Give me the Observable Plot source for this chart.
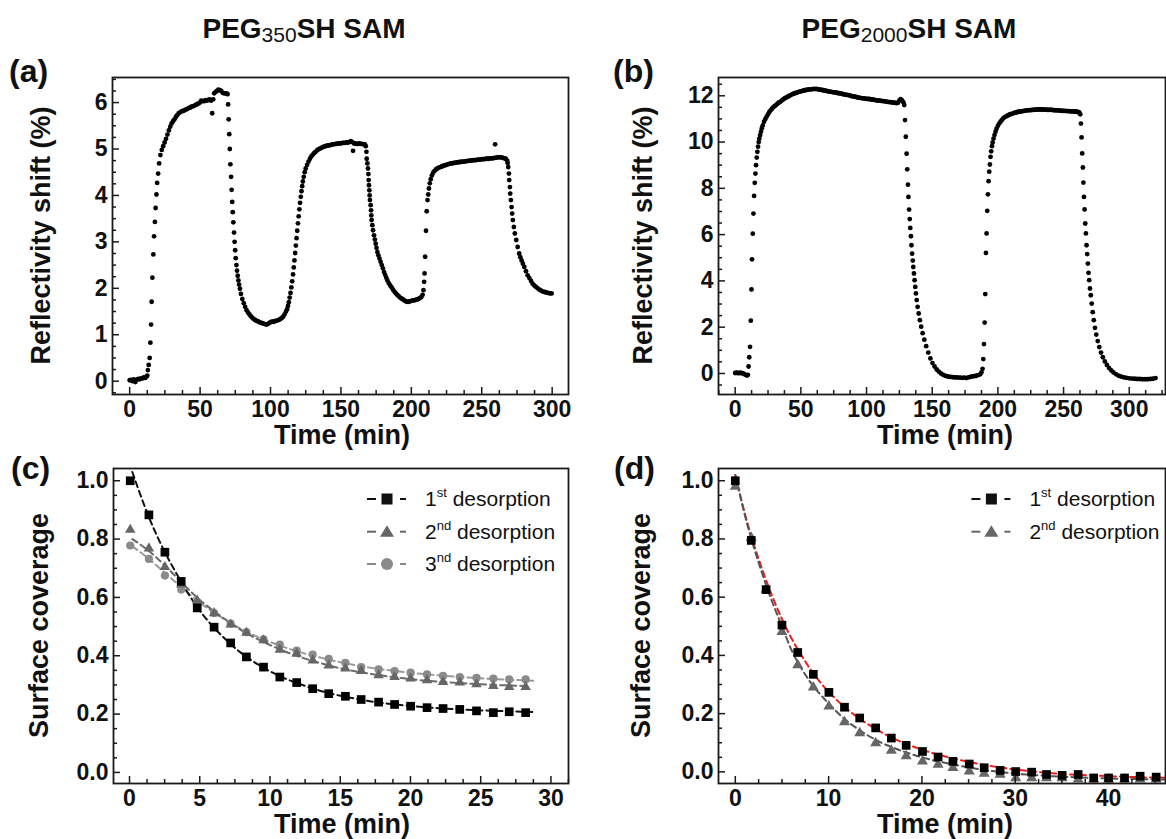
<!DOCTYPE html>
<html><head><meta charset="utf-8">
<script src="https://cdn.jsdelivr.net/npm/d3@7"></script>
<script src="https://cdn.jsdelivr.net/npm/@observablehq/plot@0.6"></script>
<style>
html,body{margin:0;padding:0;background:#fff;}
#fig{position:relative;width:1166px;height:839px;overflow:hidden;background:#fff;}
.panel{position:absolute;}
#overlay{position:absolute;left:0;top:0;pointer-events:none;}
</style></head>
<body><div id="fig"></div>
<script>
// ---------- DATA ----------
// (a) PEG350SH SAM: [time (min), reflectivity shift (%)]
const aSeries = [
[0,0.02],[1,0.03],[2,0.0],[3,0.04],[4,-0.02],[5,0.03],[6,0.05],[7,0.04],[8,0.06],[9,0.06],[10,0.08],[11,0.07],[12,0.1],[12.5,0.12],[12.9,0.24],[13.5,0.35],[14.2,0.5],[14.7,0.83],[15.2,1.22],[15.6,1.71],[16.1,2.23],[16.8,2.73],[17.3,3.12],[17.9,3.43],[18.4,3.73],[19.0,4.02],[19.5,4.27],[20.2,4.47],[20.9,4.69],[21.8,4.87],[22.8,4.98],
[23.8,5.06],[24.8,5.14],[25.8,5.22],[26.8,5.31],[27.8,5.4],[28.8,5.48],[29.8,5.55],[30.8,5.6],[31.8,5.64],[32.8,5.69],[33.8,5.73],[34.8,5.77],[35.8,5.79],[36.8,5.81],[37.8,5.82],[38.8,5.83],[39.8,5.85],[40.8,5.86],[41.8,5.88],[42.8,5.89],[43.8,5.91],[44.8,5.92],[45.8,5.93],[46.8,5.95],[47.8,5.96],[48.8,5.98],[49.8,6.0],[50.8,6.04],[51.8,6.03],[52.8,6.03],[53.8,6.05],[54.8,6.04],[55.8,6.06],[56.8,6.07],[57.8,6.04],[58.6,5.77],[59.3,6.07],[60,6.2],[61,6.23],[62,6.25],[63,6.28],[64,6.27],[65,6.25],[66,6.21],[67,6.2],[68,6.2],[69,6.19],[69.5,6.18],
[69.9,5.96],[70.3,5.64],[70.7,5.32],[71.1,5.0],[71.5,4.67],[72.0,4.4],[72.4,4.12],[72.8,3.86],[73.2,3.64],[73.6,3.42],[74.1,3.2],[74.5,3.0],[74.9,2.82],[75.3,2.65],[75.8,2.5],[76.2,2.38],[76.7,2.27],[77.2,2.17],[77.7,2.08],[78.3,1.99],[79,1.88],[80,1.77],[81,1.68],[82,1.6],[83,1.53],[84,1.48],[85,1.44],[86,1.4],[87,1.37],[88,1.34],[89,1.32],[90,1.3],[91,1.29],[92,1.27],[93,1.26],[94,1.25],[95,1.24],[96,1.23],[97,1.22],[98,1.23],[99,1.25],[100,1.27],[101,1.28],[102,1.28],[103,1.29],[104,1.3],[105,1.31],[106,1.32],[107,1.34],[108,1.36],[109,1.39],[110,1.44],[111,1.5],
[111.8,1.55],[112.4,1.62],[113,1.7],[113.6,1.8],[114.2,1.9],[114.8,2.02],[115.4,2.15],[116,2.3],[116.5,2.45],[117,2.6],[117.5,2.76],[118,2.92],[118.5,3.08],[119,3.24],[119.5,3.4],[120,3.55],[120.5,3.7],[121,3.84],[121.5,3.97],[122,4.09],[122.5,4.2],[123,4.3],[123.6,4.4],[124.3,4.5],[125,4.58],[126,4.66],[127,4.73],[128,4.79],[129,4.84],[130,4.88],[131,4.91],[132,4.94],[133,4.97],[134,4.99],[135,5.01],[136,5.02],[137,5.04],[138,5.05],[139,5.06],[140,5.07],[141,5.08],[142,5.08],[143,5.09],[144,5.1],[145,5.1],[146,5.11],[147,5.11],[148,5.12],[149,5.12],[150,5.12],[151,5.13],[152,5.13],[153,5.13],[154,5.14],[155,5.14],[156,5.15],[157,5.17],[158,5.15],[158.6,4.96],[159.3,5.12],[160,5.12],[161,5.11],[162,5.11],[163,5.12],[164,5.11],[165,5.11],[166,5.1],[167,5.1],[167.6,5.06],
[168.1,4.94],[168.3,4.79],[168.8,4.69],[169.2,4.58],[169.5,4.46],[169.7,4.33],[169.9,4.22],[170.2,4.11],[170.4,4.0],[170.6,3.9],[171.1,3.79],[171.4,3.68],[171.6,3.57],[171.8,3.47],[172.3,3.36],[172.8,3.25],[173.5,3.14],[174.1,3.05],[174.7,2.96],[175.3,2.87],[175.9,2.78],[176.6,2.71],[177.4,2.64],[178.2,2.57],[179,2.5],[179.8,2.43],[180.6,2.35],[181.4,2.29],[182.2,2.23],[183,2.17],[184,2.11],[185,2.06],[186,2.02],[187,1.97],[188,1.93],[189,1.89],[190,1.86],[191,1.83],[192,1.8],[193,1.78],[194,1.76],[195,1.74],[196,1.72],[197,1.71],[198,1.71],[199,1.72],[200,1.73],[201,1.74],[202,1.74],[203,1.75],[204,1.76],[205,1.77],[206,1.79],[207,1.81],[208,1.86],
[208.6,1.96],[209.1,2.14],[209.4,2.32],[209.8,2.68],[210.4,3.24],[210.9,3.66],[211.5,3.9],[212,4.02],[212.5,4.15],[213.1,4.26],[213.8,4.35],[214.6,4.43],[215.5,4.49],[216.5,4.53],[217.5,4.56],[218.5,4.58],[219.5,4.6],[220.5,4.61],[221.5,4.62],
[222,4.63],[223,4.64],[224,4.65],[225,4.66],[226,4.67],[227,4.68],[228,4.69],[229,4.69],[230,4.7],[231,4.7],[232,4.71],[233,4.71],[234,4.72],[235,4.72],[236,4.73],[237,4.73],[238,4.73],[239,4.74],[240,4.74],[241,4.75],[242,4.75],[243,4.75],[244,4.76],[245,4.76],[246,4.76],[247,4.77],[248,4.77],[249,4.77],[250,4.78],[251,4.78],[252,4.78],[253,4.79],[254,4.79],[255,4.79],[256,4.8],[257,4.8],[258,4.8],[259,4.81],[259.5,5.1],[260,4.81],[261,4.82],[262,4.82],[263,4.82],[264,4.82],[265,4.81],[266,4.8],[267,4.79],[268,4.75],[268.4,4.7],
[268.8,4.61],[269.3,4.47],[269.5,4.33],[270,4.18],[270.2,4.04],[270.7,3.9],[271.2,3.75],[271.6,3.61],[272.1,3.47],[272.8,3.32],[273.5,3.18],[274.5,3.04],[275.5,2.89],[276.6,2.75],[277.4,2.67],[278.3,2.6],[279.2,2.53],[280.2,2.46],[281.4,2.37],[282.6,2.28],[283.8,2.22],[285,2.16],[286.1,2.1],[287.3,2.06],[288.5,2.03],[289.7,2.0],[291,1.97],[292.2,1.95],[293.4,1.93],[294.6,1.92],[295.8,1.91],[297,1.9],[298.3,1.89],[299.6,1.89]
];

// (b) PEG2000SH SAM: [time (min), reflectivity shift (%)]
const bSeries = [
[0,0.02],[1,0.03],[2,0.02],[3,0.01],[4,0.03],[5,0.01],[6,0.0],[7,-0.03],[8,-0.06],[9,-0.09],[9.7,-0.06],[10.2,0.3],[10.7,0.7],[11.3,1.15],[11.9,2.28],[12.4,3.63],[12.8,4.93],[13.4,6.04],[13.9,6.91],[14.4,7.67],[14.9,8.24],[15.4,8.64],[15.9,9.0],[16.4,9.33],[16.9,9.58],[17.4,9.8],[17.9,10.0],[18.4,10.15],[19,10.3],[19.6,10.45],[20.3,10.6],[21,10.72],[22,10.88],[23,11.0],[24,11.1],[25,11.2],[26,11.3],[27,11.37],[28,11.44],[29,11.5],[30,11.55],[31,11.6],[32,11.65],[33,11.7],[34,11.73],[35,11.77],[36,11.82],[37,11.86],[38,11.9],[39,11.93],[40,11.96],[41,11.99],[42,12.02],[43,12.05],[44,12.08],[45,12.1],[46,12.12],[47,12.14],[48,12.16],[49,12.18],[50,12.19],[51,12.21],[52,12.22],[53,12.24],[54,12.25],[55,12.26],[56,12.27],[57,12.28],[58,12.28],[59,12.29],[60,12.3],[61,12.29],[62,12.3],[63,12.28],[64,12.27],[65,12.27],[66,12.25],[67,12.24],[68,12.23],[69,12.22],[70,12.2],[71,12.19],[72,12.18],[73,12.17],[74,12.16],[75,12.15],[76,12.15],[77,12.13],[78,12.12],[79,12.11],[80,12.1],[81,12.09],[82,12.07],[83,12.06],[84,12.05],[85,12.04],[86,12.03],[87,12.02],[88,12.0],[89,11.98],[90,11.97],[91,11.96],[92,11.95],[93,11.93],[94,11.92],[95,11.91],[96,11.9],[97,11.89],[98,11.89],[99,11.88],[100,11.87],[101,11.86],[102,11.86],[103,11.85],[104,11.84],[105,11.83],[106,11.82],[107,11.81],[108,11.8],[109,11.79],[110,11.79],[111,11.78],[112,11.77],[113,11.77],[114,11.76],[115,11.75],[116,11.74],[117,11.73],[118,11.73],[119,11.72],[120,11.71],[121,11.7],[122,11.69],[123,11.68],[124,11.7],[125,11.8],[126,11.85],[127,11.8],[128,11.72],[128.7,11.6],
[129.3,10.95],[129.9,10.23],[130.5,9.5],[131,8.82],[131.5,8.16],[131.9,7.63],[132.4,7.08],[132.9,6.67],[133.3,6.29],[133.8,5.93],[134.2,5.54],[134.7,5.18],[135.2,4.88],[135.6,4.6],[136.1,4.32],[136.6,4.03],[137.1,3.74],[137.6,3.46],[138.2,3.17],[138.9,2.88],[139.7,2.59],[140.6,2.3],[141.6,2.02],[142.7,1.74],[144,1.46],[145.4,1.18],[147,0.9],[148.6,0.65],[150.2,0.45],[151.8,0.3],[153.4,0.17],[155,0.08],[156.6,0.0],[158,-0.05],[159.5,-0.09],[161,-0.12],[162.5,-0.14],[164,-0.15],[165.5,-0.16],[167,-0.17],[168.5,-0.17],[170,-0.18],[171.5,-0.18],[173,-0.19],[174.5,-0.18],[176,-0.2],[177.5,-0.17],[179,-0.15],[180.5,-0.13],[182,-0.12],[183.5,-0.1],[185,-0.07],[186.5,-0.04],[187.5,0.05],[188.3,0.2],
[188.9,0.62],[189.4,1.27],[189.9,2.2],[190.4,3.43],[190.9,5.21],[191.4,6.05],[191.9,7.03],[192.4,7.74],[192.9,8.31],[193.4,8.72],[193.9,9.03],[194.4,9.36],[194.9,9.6],[195.5,9.82],[196,9.98],[196.7,10.15],[197.4,10.3],[198.2,10.45],[199,10.58],[200,10.7],[201,10.8],[202,10.88],[203,10.95],[204,11.02],[205,11.07],[206,11.1],[207,11.13],[208,11.16],[209,11.19],[210,11.21],[211,11.23],[212,11.25],[213,11.27],[214,11.28],[215,11.3],[216,11.31],[217,11.32],[218,11.33],[219,11.34],[220,11.35],[221,11.36],[222,11.37],[223,11.37],[224,11.38],[225,11.38],[226,11.39],[227,11.39],[228,11.4],[229,11.4],[230,11.41],[231,11.41],[232,11.4],[233,11.41],[234,11.41],[235,11.4],[236,11.4],[237,11.4],[238,11.39],[239,11.39],[240,11.4],[241,11.39],[242,11.38],[243,11.38],[244,11.37],[245,11.37],[246,11.37],[247,11.36],[248,11.36],[249,11.35],[250,11.35],[251,11.35],[252,11.34],[253,11.34],[254,11.34],[255,11.33],[256,11.33],[257,11.33],[258,11.32],[259,11.32],[260,11.31],[261,11.3],[262,11.28],[262.7,11.2],
[263.2,10.8],[263.7,10.2],[264.2,9.51],[264.7,8.9],[265.1,8.25],[265.5,7.63],[266,7.09],[266.5,6.48],[267,6.05],[267.5,5.54],[268,5.16],[268.5,4.75],[269,4.35],[269.5,4.03],[270.1,3.67],[270.7,3.38],[271.4,3.02],[272.2,2.65],[273,2.3],[273.9,1.97],[274.9,1.68],[276,1.4],[277.2,1.14],[278.5,0.9],[279.9,0.7],[281.4,0.52],[283,0.37],[284.6,0.24],[286.3,0.13],[288,0.04],[290,-0.04],[292,-0.1],[294,-0.14],[296,-0.17],[298,-0.19],[300,-0.21],[302,-0.22],[304,-0.23],[306,-0.24],[308,-0.24],[310,-0.25],[312,-0.25],[314,-0.25],[316,-0.24],[318,-0.23],[320,-0.2]
];

// (c) PEG350SH desorption, surface coverage
const cTime = [0.05,1.38,2.52,3.68,4.82,6.02,7.2,8.32,9.54,10.7,11.9,13.04,14.18,15.37,16.49,17.73,18.87,20.01,21.18,22.32,23.51,24.7,25.9,27.03,28.2];
const cFirst  = [1.0,0.883,0.755,0.655,0.564,0.498,0.444,0.396,0.361,0.327,0.308,0.287,0.27,0.261,0.25,0.241,0.233,0.227,0.222,0.219,0.216,0.211,0.205,0.208,0.205];
const cSecond = [0.832,0.768,0.704,0.644,0.589,0.546,0.507,0.479,0.453,0.421,0.407,0.384,0.367,0.356,0.348,0.333,0.327,0.322,0.316,0.31,0.308,0.302,0.296,0.293,0.293];
const cThird  = [0.778,0.732,0.675,0.627,0.584,0.546,0.51,0.481,0.456,0.438,0.418,0.404,0.389,0.376,0.361,0.353,0.347,0.342,0.336,0.331,0.327,0.324,0.322,0.319,0.319];
// fitted curves
const cFit1Time = [0.2,1.3,2.5,3.7,4.8,6.0,7.2,8.3,9.5,10.7,12,13.5,15,16.5,18,20,22,24,26,28.9];
const cFit1     = [1.03,0.885,0.757,0.652,0.568,0.497,0.44,0.397,0.36,0.33,0.305,0.281,0.263,0.249,0.238,0.228,0.22,0.215,0.211,0.207];
const cFit2Time = [0.2,1.3,2.5,3.7,4.8,6.0,7.2,8.3,9.5,10.7,12,13.5,15,16.5,18,20,22,24,26,28.5];
const cFit2     = [0.8,0.762,0.71,0.652,0.6,0.553,0.512,0.478,0.448,0.422,0.398,0.376,0.357,0.343,0.332,0.32,0.311,0.305,0.3,0.296];
const cFit3Time = [0.2,1.3,2.5,3.7,4.8,6.0,7.2,8.3,9.5,10.7,12,13.5,15,16.5,18,20,22,24,26,29];
const cFit3     = [0.775,0.735,0.685,0.635,0.59,0.548,0.512,0.483,0.457,0.435,0.414,0.395,0.378,0.364,0.353,0.342,0.333,0.326,0.32,0.314];

// (d) PEG2000SH desorption, surface coverage
const dTime = [0,1.71,3.3,5.0,6.69,8.36,10.03,11.7,13.33,15.04,16.72,18.31,20.06,21.73,23.32,25.07,26.67,28.38,30.05,31.76,33.35,35.02,36.74,38.41,40.0,41.71,43.38,45.1];
const dFirst  = [1.0,0.795,0.626,0.504,0.41,0.335,0.273,0.222,0.185,0.151,0.116,0.091,0.07,0.051,0.036,0.027,0.014,0.005,0.001,-0.001,-0.009,-0.012,-0.009,-0.021,-0.021,-0.021,-0.015,-0.018];
const dSecond = [0.98,0.804,0.626,0.481,0.367,0.29,0.225,0.171,0.133,0.099,0.073,0.054,0.036,0.025,0.014,0.002,-0.006,-0.009,-0.021,-0.021,-0.021,-0.021,-0.026,-0.026,-0.026,-0.026,-0.026,-0.026];
const dFitTime = [0,1,2,3,4,5,6,7,8,9,10,11,12,13,14,15,16,17,18,20,22,24,26,28,30,32,34,36,38,40,42,44,46];
const dFit1 = [1.02,0.89,0.78,0.685,0.6,0.525,0.46,0.405,0.355,0.312,0.275,0.243,0.215,0.19,0.168,0.148,0.13,0.114,0.1,0.076,0.057,0.041,0.028,0.017,0.008,0.001,-0.005,-0.009,-0.012,-0.015,-0.017,-0.019,-0.02];
const dFit2 = [1.02,0.885,0.77,0.67,0.58,0.5,0.42,0.36,0.31,0.27,0.235,0.202,0.174,0.15,0.129,0.111,0.095,0.082,0.07,0.05,0.034,0.021,0.01,0.001,-0.006,-0.011,-0.015,-0.018,-0.021,-0.023,-0.024,-0.025,-0.026];

// tick labels
const aXTicks = [0,50,100,150,200,250,300], aYTicks = [0,1,2,3,4,5,6];
const bXTicks = [0,50,100,150,200,250,300], bYTicks = [0,2,4,6,8,10,12];
const cXTicks = [0,5,10,15,20,25,30], cYTicks = [0,0.2,0.4,0.6,0.8,1.0];
const dXTicks = [0,10,20,30,40], dYTicks = [0,0.2,0.4,0.6,0.8,1.0];

// ---------- DRAWING ----------
const FONT = '"Liberation Sans", Arial, Helvetica, sans-serif';
const fig = document.getElementById("fig");
const pairs = (t, v) => t.map((x, i) => ({t: x, v: v[i]}));

function minorTicks(step, domain, majors) {
  const out = [];
  for (let k = Math.ceil(domain[0] / step); k * step <= domain[1] + 1e-9; k++) {
    const v = +(k * step).toFixed(6);
    if (!majors.some(m => Math.abs(m - v) < 1e-9)) out.push(v);
  }
  return out;
}

function panel({left, top, width, height, margins, xDomain, yDomain, xMajor, yMajor, xStep, yStep, yFormat, marks}) {
  const xMinor = minorTicks(xStep, xDomain, xMajor), yMinor = minorTicks(yStep, yDomain, yMajor);
  const tk = {stroke: "#1a1a1a", strokeWidth: 1.5, label: null};
  const tx = {fontSize: 23, fontWeight: "bold", fontFamily: FONT, fill: "#111"};
  const svg = Plot.plot({
    width, height, ...margins,
    x: {domain: xDomain, label: null},
    y: {domain: yDomain, label: null},
    style: {background: "transparent", fontFamily: FONT, color: "#111", overflow: "visible"},
    marks: [
      ...marks,
      Plot.axisX(xMinor, {anchor: "bottom", tickSize: -4, tickFormat: () => "", ...tk}),
      Plot.axisX(xMajor, {anchor: "bottom", tickSize: -7, tickPadding: 13, tickFormat: d => String(d), ...tk, ...tx}),
      Plot.axisY(yMinor, {anchor: "left", tickSize: -4, tickFormat: () => "", ...tk}),
      Plot.axisY(yMajor, {anchor: "left", tickSize: -7, tickPadding: 12, tickFormat: yFormat, ...tk, ...tx}),
      Plot.frame({stroke: "#1a1a1a", strokeWidth: 1.8})
    ]
  });
  const div = document.createElement("div");
  div.className = "panel";
  div.style.left = left + "px"; div.style.top = top + "px"; div.style.width = width + "px";
  div.appendChild(svg);
  fig.appendChild(div);
}

const aData = aSeries.map(([t, v]) => ({t, v}));
const bData = bSeries.map(([t, v]) => ({t, v}));
const dash = "6,4";

panel({
  left: 0, top: 0, width: 583, height: 430,
  margins: {marginLeft: 112, marginRight: 15, marginTop: 77, marginBottom: 36},
  xDomain: [-12.2, 311.6], yDomain: [-0.287, 6.54],
  xMajor: aXTicks, yMajor: aYTicks, xStep: 12.5, yStep: 0.25, yFormat: d => String(d),
  marks: [Plot.dot(aData, {x: "t", y: "v", r: 2.4, fill: "#000", clip: true})]
});

panel({
  left: 583, top: 0, width: 583, height: 430,
  margins: {marginLeft: 135, marginRight: 1, marginTop: 77, marginBottom: 36},
  xDomain: [-12.7, 327.6], yDomain: [-0.91, 12.79],
  xMajor: bXTicks, yMajor: bYTicks, xStep: 12.5, yStep: 0.5, yFormat: d => String(d),
  marks: [Plot.dot(bData, {x: "t", y: "v", r: 2.4, fill: "#000", clip: true})]
});

const f1 = d3.format(".1f");
panel({
  left: 0, top: 440, width: 583, height: 399,
  margins: {marginLeft: 113, marginRight: 15, marginTop: 28, marginBottom: 56},
  xDomain: [-1.14, 31.25], yDomain: [-0.038, 1.042],
  xMajor: cXTicks, yMajor: cYTicks, xStep: 1.25, yStep: 0.05, yFormat: f1,
  marks: [
    Plot.line(pairs(cFit3Time, cFit3), {x: "t", y: "v", stroke: "#9a9a9a", strokeWidth: 2, strokeDasharray: dash, curve: "natural"}),
    Plot.line(pairs(cFit2Time, cFit2), {x: "t", y: "v", stroke: "#6a6a6a", strokeWidth: 2, strokeDasharray: dash, curve: "natural"}),
    Plot.line(pairs(cFit1Time, cFit1), {x: "t", y: "v", stroke: "#111", strokeWidth: 2, strokeDasharray: dash, curve: "natural"}),
    Plot.dot(pairs(cTime, cThird), {x: "t", y: "v", symbol: "circle", r: 4.1, fill: "#8a8a8a"}),
    Plot.dot(pairs(cTime, cSecond), {x: "t", y: "v", symbol: "triangle", r: 3.9, fill: "#666"}),
    Plot.dot(pairs(cTime, cFirst), {x: "t", y: "v", symbol: "square", r: 4.9, fill: "#000"})
  ]
});

panel({
  left: 583, top: 440, width: 583, height: 399,
  margins: {marginLeft: 135, marginRight: 1, marginTop: 28, marginBottom: 56},
  xDomain: [-1.8, 46.1], yDomain: [-0.04, 1.042],
  xMajor: dXTicks, yMajor: dYTicks, xStep: 2.5, yStep: 0.05, yFormat: f1,
  marks: [
    Plot.line(pairs(dFitTime, dFit1), {x: "t", y: "v", stroke: "#ee1c1c", strokeWidth: 2, strokeDasharray: dash, curve: "natural", clip: true}),
    Plot.line(pairs(dFitTime, dFit2), {x: "t", y: "v", stroke: "#555", strokeWidth: 2, strokeDasharray: dash, curve: "natural", clip: true}),
    Plot.dot(pairs(dTime, dSecond), {x: "t", y: "v", symbol: "triangle", r: 4.1, fill: "#666", clip: true}),
    Plot.dot(pairs(dTime, dFirst), {x: "t", y: "v", symbol: "square", r: 4.9, fill: "#000", clip: true})
  ]
});

// ---------- TEXT OVERLAY (titles, labels, legends) ----------
function legendRow(x0, y, color, shape, ord, sup) {
  const mx = x0 + 20;
  let m;
  if (shape === "square") m = `<rect x="${mx - 5.5}" y="${y - 5.5}" width="11" height="11" fill="${color}"/>`;
  else if (shape === "triangle") m = `<path d="M${mx},${y - 6.5}L${mx + 7},${y + 5}L${mx - 7},${y + 5}Z" fill="${color}"/>`;
  else m = `<circle cx="${mx}" cy="${y}" r="6" fill="${color}"/>`;
  return `<line x1="${x0}" x2="${x0 + 9}" y1="${y}" y2="${y}" stroke="${color}" stroke-width="2"/>${m}` +
    `<line x1="${x0 + 33}" x2="${x0 + 39}" y1="${y}" y2="${y}" stroke="${color}" stroke-width="2"/>` +
    `<text x="${x0 + 58}" y="${y + 7}" font-size="21" fill="#111">${ord}<tspan font-size="13" dy="-9">${sup}</tspan><tspan font-size="21" dy="9"> desorption</tspan></text>`;
}

const B = 'font-weight="bold" fill="#111"';
const overlay = `<svg id="overlay" width="1166" height="839" xmlns="http://www.w3.org/2000/svg" font-family='${FONT}'>
<text x="304" y="38" text-anchor="middle" font-size="28" ${B}>PEG<tspan font-size="21" font-weight="normal" dy="4">350</tspan><tspan dy="-4">SH SAM</tspan></text>
<text x="909" y="38" text-anchor="middle" font-size="28" ${B}>PEG<tspan font-size="21" font-weight="normal" dy="4">2000</tspan><tspan dy="-4">SH SAM</tspan></text>
<text x="9" y="82" font-size="32" ${B}>(a)</text>
<text x="613" y="82" font-size="32" ${B}>(b)</text>
<text x="11" y="479" font-size="32" ${B}>(c)</text>
<text x="614" y="479" font-size="32" ${B}>(d)</text>
<text transform="translate(50,235.5) rotate(-90)" text-anchor="middle" font-size="27" ${B}>Reflectivity shift (%)</text>
<text transform="translate(652,235.5) rotate(-90)" text-anchor="middle" font-size="27" ${B}>Reflectivity shift (%)</text>
<text transform="translate(48,625.5) rotate(-90)" text-anchor="middle" font-size="27" ${B}>Surface coverage</text>
<text transform="translate(650,625.5) rotate(-90)" text-anchor="middle" font-size="27" ${B}>Surface coverage</text>
<text x="342" y="444" text-anchor="middle" font-size="27" ${B}>Time (min)</text>
<text x="945" y="444" text-anchor="middle" font-size="27" ${B}>Time (min)</text>
<text x="342" y="833" text-anchor="middle" font-size="27" ${B}>Time (min)</text>
<text x="945" y="833" text-anchor="middle" font-size="27" ${B}>Time (min)</text>
${legendRow(367, 499, "#111", "square", "1", "st")}
${legendRow(367, 531.7, "#666", "triangle", "2", "nd")}
${legendRow(367, 564, "#8a8a8a", "circle", "3", "nd")}
${legendRow(971.4, 499, "#111", "square", "1", "st")}
${legendRow(971.4, 531.7, "#666", "triangle", "2", "nd")}
</svg>`;
fig.insertAdjacentHTML("beforeend", overlay);
</script>
</body></html>
